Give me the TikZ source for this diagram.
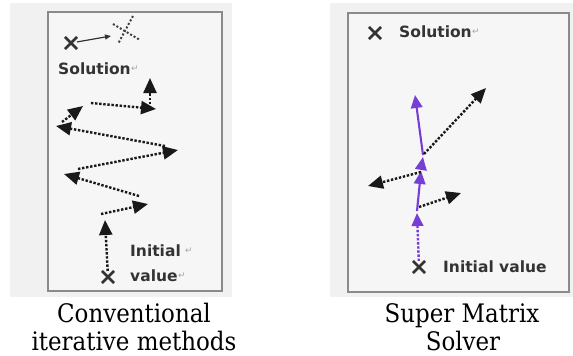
\documentclass[tikz,border=0pt]{standalone}
\usepackage{fontspec}
\usetikzlibrary{arrows.meta,shapes.misc}
\newfontfamily\lblfont{DejaVu Sans}
\newfontfamily\capfont[FakeStretch=0.9]{DejaVu Serif}
\newfontfamily\symfont{DejaVu Sans}
\definecolor{panelbg}{HTML}{F1F1F1}
\definecolor{boxbg}{HTML}{F6F6F6}
\definecolor{boxedge}{HTML}{8A8A8A}
\definecolor{ink}{HTML}{333333}
\definecolor{vio}{RGB}{118,62,214}
\tikzset{
  panel/.style={fill=panelbg,draw=none},
  framebox/.style={fill=boxbg,draw=boxedge,line width=1.6pt},
  xmark/.style={cross out,draw=ink,line width=2.6pt,minimum size=9.5pt,inner sep=0pt},
  lbl/.style={font=\lblfont\bfseries\fontsize{15.5}{17}\selectfont,text=ink,anchor=west,inner sep=0pt},
  ret/.style={font=\symfont\fontsize{9}{9}\selectfont,text=black!35,anchor=west,inner sep=0pt},
  captext/.style={font=\capfont\fontsize{25.5}{28}\selectfont,align=center,text=black,inner sep=0pt},
  dotarrow/.style={draw=black!90,line width=2.4pt,dash pattern=on 2.4pt off 1.7pt,
    -{Triangle[length=15pt,width=13pt]}},
  vdot/.style={draw=vio,line width=2.4pt,dash pattern=on 2.4pt off 1.7pt,
    -{Triangle[length=13pt,width=11.5pt]}},
  vsolid/.style={draw=vio,line width=2.1pt,-{Triangle[length=13pt,width=11.5pt]}},
  thinarrow/.style={draw=ink,line width=1.2pt,-{Triangle[length=6pt,width=5pt]}},
  dotline/.style={draw=black!75,line width=2pt,dash pattern=on 2pt off 2pt}
}
\begin{document}
\begin{tikzpicture}[x=1pt,y=-1pt]
\useasboundingbox (0,0) rectangle (573,356);
% panels
\fill[panel] (10,3) rectangle (232,297);
\fill[panel] (330,3) rectangle (573,297);
\draw[framebox] (48,12) rectangle (222,291);
\draw[framebox] (348,13) rectangle (569,292);

% ---------- left panel ----------
\node[xmark] (ls) at (71,43) {};
\coordinate (lt) at (111,36);
\draw[thinarrow] (ls) -- (lt);
\coordinate (dxa) at (113,24);
\coordinate (dxb) at (140,40);
\coordinate (dxc) at (133,16);
\coordinate (dxd) at (118,44);
\draw[dotline] (dxa) -- (dxb);
\draw[dotline] (dxc) -- (dxd);
\node[lbl] (lsol) at (58,69) {Solution};
\node[ret] (lsolr) at (lsol.east) {↵};

\node[lbl] (linit) at (130,251) {Initial};
\node[ret] (linitr) at ([xshift=4pt]linit.east) {↵};
\node[lbl] (lval) at (130,276) {value};
\node[ret] (lvalr) at (lval.east) {↵};
\node[xmark] (li) at (108,277) {};

\coordinate (a1) at (105,220);
\coordinate (b1) at (101,214);
\coordinate (a2) at (148,204);
\coordinate (b2) at (139,196);
\coordinate (a3) at (64,174);
\coordinate (b3) at (78,169);
\coordinate (a4) at (178,150);
\coordinate (b4) at (165,146);
\coordinate (a5) at (56,126);
\coordinate (b5) at (62,122);
\coordinate (a6) at (83,106);
\coordinate (b6) at (91,103);
\coordinate (a7) at (156,109);
\coordinate (b7) at (150,104);
\coordinate (a8) at (150,78);
\draw[dotarrow] (li) -- (a1);
\draw[dotarrow] (b1) -- (a2);
\draw[dotarrow] (b2) -- (a3);
\draw[dotarrow] (b3) -- (a4);
\draw[dotarrow] (b4) -- (a5);
\draw[dotarrow] (b5) -- (a6);
\draw[dotarrow] (b6) -- (a7);
\draw[dotarrow] (b7) -- (a8);

% ---------- right panel ----------
\node[xmark] (rs) at (375,33) {};
\node[lbl] (rsol) at (399,32) {Solution};
\node[ret] (rsolr) at (rsol.east) {↵};
\node[xmark] (ri) at (419,267) {};
\node[lbl] (rinit) at (443,267) {Initial value};

\coordinate (v1) at (417,213);
\coordinate (v2) at (421,171);
\coordinate (v3) at (423,157);
\coordinate (v4) at (415,95);
\draw[vdot] (ri) -- (v1);
\draw[vsolid] ([yshift=2pt]v1) -- (v2);
\draw[vsolid] ([yshift=2pt]v2) -- (v3);
\draw[vsolid] ([yshift=2pt]v3) -- (v4);

\coordinate (c1s) at (419,207);
\coordinate (c1) at (461,193);
\coordinate (c2s) at (421,172);
\coordinate (c2) at (368,186);
\coordinate (c3s) at (424,154);
\coordinate (c3) at (486,88);
\draw[dotarrow] (c1s) -- (c1);
\draw[dotarrow] (c2s) -- (c2);
\draw[dotarrow] (c3s) -- (c3);

% captions
\node[captext,anchor=base] (cl1) at (134,322) {Conventional};
\node[captext,anchor=base] (cl2) at (134,350) {iterative methods};
\node[captext,anchor=base] (cr1) at (462,322) {Super Matrix};
\node[captext,anchor=base] (cr2) at (463,350) {Solver};
\end{tikzpicture}
\end{document}
